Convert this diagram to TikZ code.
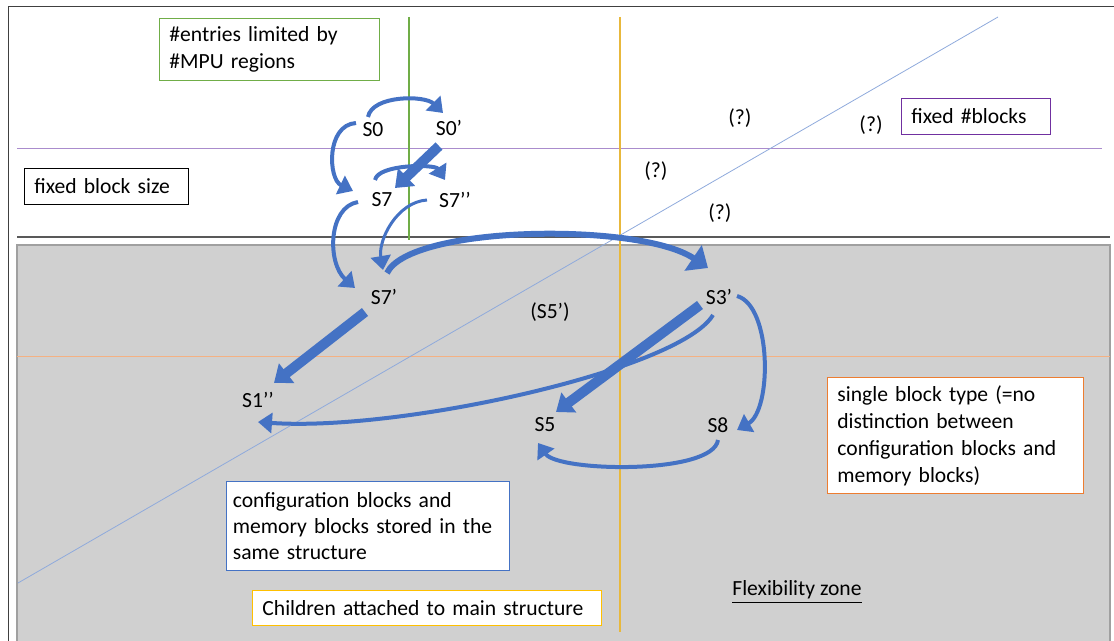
\documentclass[tikz,border=0pt]{standalone}
\usepackage{fontspec}
\setmainfont{Carlito}
\usetikzlibrary{arrows.meta}

\definecolor{arrowblue}{RGB}{68,114,196}
\definecolor{zonegray}{RGB}{208,208,208}
\definecolor{zoneedge}{RGB}{160,160,160}
\definecolor{mpugreen}{RGB}{112,173,71}
\definecolor{flexgold}{RGB}{232,184,60}
\definecolor{blockpurple}{RGB}{112,48,160}
\definecolor{linepurple}{RGB}{170,140,205}
\definecolor{typeorange}{RGB}{237,125,49}
\definecolor{lineorange}{RGB}{244,177,131}
\definecolor{diagblue}{RGB}{143,170,220}
\definecolor{childgold}{RGB}{255,192,0}

\tikzset{
    every node/.style={font=\fontsize{10.8}{13.2}\selectfont},
    state/.style={inner sep=1pt},
    notebox/.style={draw, fill=white, anchor=north west, align=left, inner xsep=5pt, inner ysep=2pt},
    flow/.style={draw=arrowblue, line width=2pt, -{Triangle[width=10pt,length=7pt]}},
    bigflow/.style={draw=arrowblue, line width=5pt, -{Triangle[width=12pt,length=8pt]}},
}

\begin{document}
\begin{tikzpicture}[x=0.5pt,y=-0.5pt]
    \useasboundingbox (0,0) rectangle (1114,641);

    \draw[black!75] (8,641) -- (8,6) -- (1114,6);
    \filldraw[fill=zonegray, draw=zoneedge, line width=0.8pt] (17,245) rectangle (1110,645);

    \draw[linepurple] (17,148) -- (1102,148);
    \draw[black!65, line width=0.7pt] (17,237) -- (1110,237);
    \draw[lineorange] (17,356) -- (1110,356);
    \draw[mpugreen, line width=0.7pt] (409,17) -- (409,240);
    \draw[flexgold, line width=1pt] (620,17) -- (620,632);
    \draw[diagblue] (18,583) -- (998,17);

    \node[notebox, draw=mpugreen, text width=100pt, minimum height=31pt] (mpu) at (159,18) {\#entries limited by\\\#MPU regions};
    \node[notebox, draw=black, text width=72pt, minimum height=18pt] (size) at (24,168) {fixed block size};
    \node[notebox, draw=blockpurple, text width=64.5pt, minimum height=18pt] (count) at (901,98) {fixed \#blocks};
    \node[notebox, draw=arrowblue, text width=135pt, inner xsep=3.25pt, minimum height=44.5pt, font=\fontsize{10.8}{13}\selectfont] (same) at (226,481) {configuration blocks and\\memory blocks stored in the\\same structure};
    \node[notebox, draw=typeorange, text width=118pt, minimum height=58pt, font=\fontsize{10.8}{13.5}\selectfont] (single) at (827,377) {single block type (=no\\distinction between\\configuration blocks and\\memory blocks)};
    \node[notebox, draw=childgold, text width=164.5pt, minimum height=17.5pt] (child) at (252,590) {Children attached to main structure};

    \node[state] (s0) at (373,130) {S0};
    \node[state] (s0p) at (449,128) {S0’};
    \node[state] (s7) at (382,200) {S7};
    \node[state] (s7pp) at (455,200) {S7’’};
    \node[state] (s7p) at (384,297) {S7’};
    \node[state] (s3p) at (719,297) {S3’};
    \node[state] (s5p) at (550,312) {(S5’)};
    \node[state] (s1pp) at (258,400) {S1’’};
    \node[state] (s5) at (545,425) {S5};
    \node[state] (s8) at (718,425) {S8};

    \node[state] (q1) at (740,118) {(?)};
    \node[state] (q2) at (871,125) {(?)};
    \node[state] (q3) at (656,171) {(?)};
    \node[state] (q4) at (720,213) {(?)};

    \node[state] (flex) at (797,592) {\underline{Flexibility zone}};

    \draw[flow] ([shift={(-5,-13)}]s0.center) .. controls +(4,-22) and +(-18,-18) .. ([shift={(-6,-15)}]s0p.center);
    \draw[flow] ([shift={(-17,-7)}]s0.center) .. controls +(-30,2) and +(-25,-12) .. ([shift={(-29,-9)}]s7.center);
    \draw[flow] ([shift={(-7,-20)}]s7.center) .. controls +(3,-16) and +(-10,-16) .. ([shift={(-10,-20)}]s7pp.center);
    \draw[flow] ([shift={(-24,2)}]s7.center) .. controls +(-30,5) and +(-28,-25) .. ([shift={(-29,-9)}]s7p.center);
    \draw[flow, line width=1.5pt] ([shift={(-28,0)}]s7pp.center) .. controls +(-30,2) and +(-5,-30) .. ([shift={(-1,-27)}]s7p.center);
    \draw[flow, line width=3pt, -{Triangle[width=15pt,length=9pt]}] ([shift={(3,-24)}]s7p.center) .. controls +(23,-48) and +(-68,-46) .. ([shift={(-11,-29)}]s3p.center);
    \draw[flow] ([shift={(18,-1)}]s3p.center) .. controls +(35,10) and +(35,-20) .. ([shift={(19,5)}]s8.center);
    \draw[flow] ([shift={(0,15)}]s8.center) .. controls +(-5,35) and +(20,29) .. ([shift={(-7,18)}]s5.center);
    \draw[flow] ([shift={(-6,18)}]s3p.center) .. controls +(-33,55) and +(142,10) .. ([shift={(0,22)}]s1pp.center);

    \draw[bigflow] ([shift={(-10,18)}]s0p.center) -- ([shift={(13,-12)}]s7.center);
    \draw[bigflow] ([shift={(-19,15)}]s7p.center) -- ([shift={(16,-17)}]s1pp.center);
    \draw[bigflow] ([shift={(-19,8)}]s3p.center) -- ([shift={(11,-13)}]s5.center);
\end{tikzpicture}
\end{document}
